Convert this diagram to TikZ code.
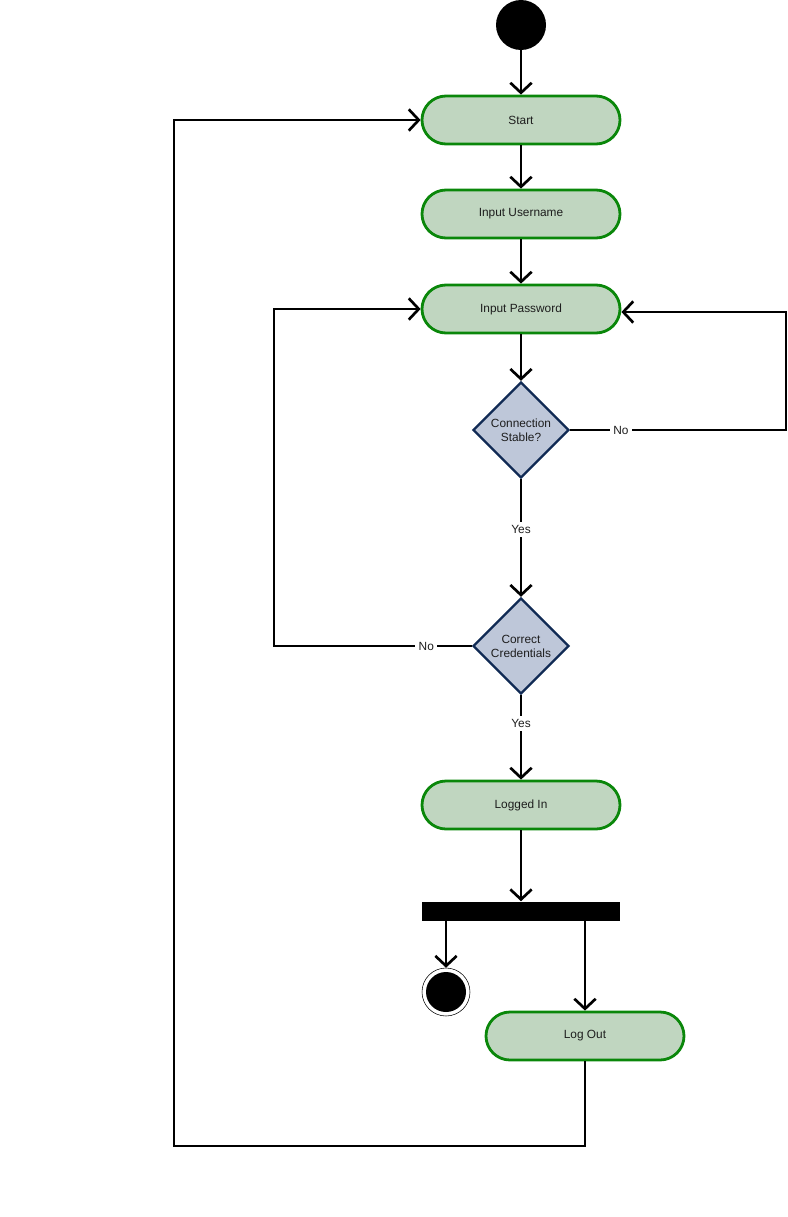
\documentclass[tikz,border=0pt]{standalone}
\usepackage{fontspec}
\setmainfont{Liberation Sans}
\usetikzlibrary{shapes.geometric,arrows.meta}

\definecolor{actfill}{RGB}{192,214,192}
\definecolor{actdraw}{RGB}{10,135,10}
\definecolor{decfill}{RGB}{190,199,217}
\definecolor{decdraw}{RGB}{16,42,84}
\definecolor{txt}{RGB}{30,30,30}

\begin{document}
\begin{tikzpicture}
		[x=0.75pt,y=-0.75pt,
		 every node/.style= {font=\fontsize{8.9}{10.5}\selectfont,text=txt},
		 action/.style= {rectangle,rounded corners=18pt,minimum width=148.5pt,minimum height=36pt,line width=2.1pt,draw=actdraw,fill=actfill},
		 decision/.style= {diamond,aspect=1,inner sep=0pt,minimum size=72pt,line width=1.8pt,draw=decdraw,fill=decfill,align=center},
		 initial/.style= {circle,inner sep=0pt,minimum size=37.5pt,fill=black},
		 final/.style= {circle,inner sep=0pt,minimum size=36pt,draw=black,thin,fill=white,
			path picture={\fill[black] (path picture bounding box.center) circle (15pt);}},
		 bar/.style= {rectangle,inner sep=0pt,minimum width=148.5pt,minimum height=14.25pt,fill=black},
		 branch/.style= {-{Straight Barb[length=7.5pt,width=16pt]},line width=2pt},
		 lbl/.style= {fill=white,inner sep=2.5pt}]
		
		\useasboundingbox (0,0) rectangle (788,1217);
		
		\node[initial] (init) at (521,25) {};
		\node[action] (start) at (521,120) {Start};
		\node[action] (user) at (521,214) {Input Username};
		\node[action] (pass) at (521,309) {Input Password};
		\node[decision] (stable) at (521,430) {Connection\\Stable?};
		\node[decision] (cred) at (521,646) {Correct\\Credentials};
		\node[action] (logged) at (521,805) {Logged In};
		\node[bar] (fork) at (521,911) {};
		\node[final] (done) at (446,992) {};
		\node[action] (logout) at (585,1036) {Log Out};
		
		\coordinate (rightc) at (786,430);
		\coordinate (leftc) at (274,646);
		\coordinate (backc) at (174,1146);
		
		\draw[branch] (init) -- (start);
		\draw[branch] (start) -- (user);
		\draw[branch] (user) -- (pass);
		\draw[branch] (pass) -- (stable);
		\draw[branch] (stable.east) -- node[lbl,pos=0.235] {No} (rightc) |- ([yshift=-2.25pt]pass.east);
		\draw[branch] (stable.south) -- node[lbl,pos=0.43] {Yes} (cred.north);
		\draw[branch] (cred.west) -- node[lbl,pos=0.23] {No} (leftc) |- (pass.west);
		\draw[branch] (cred.south) -- node[lbl,pos=0.33] {Yes} (logged.north);
		\draw[branch] (logged) -- (fork);
		\draw[branch] (fork.south -| done) -- (done);
		\draw[branch] (fork.south -| logout) -- (logout);
		\draw[branch] (logout.south) |- (backc) |- (start.west);
		
	\end{tikzpicture}
\end{document}
